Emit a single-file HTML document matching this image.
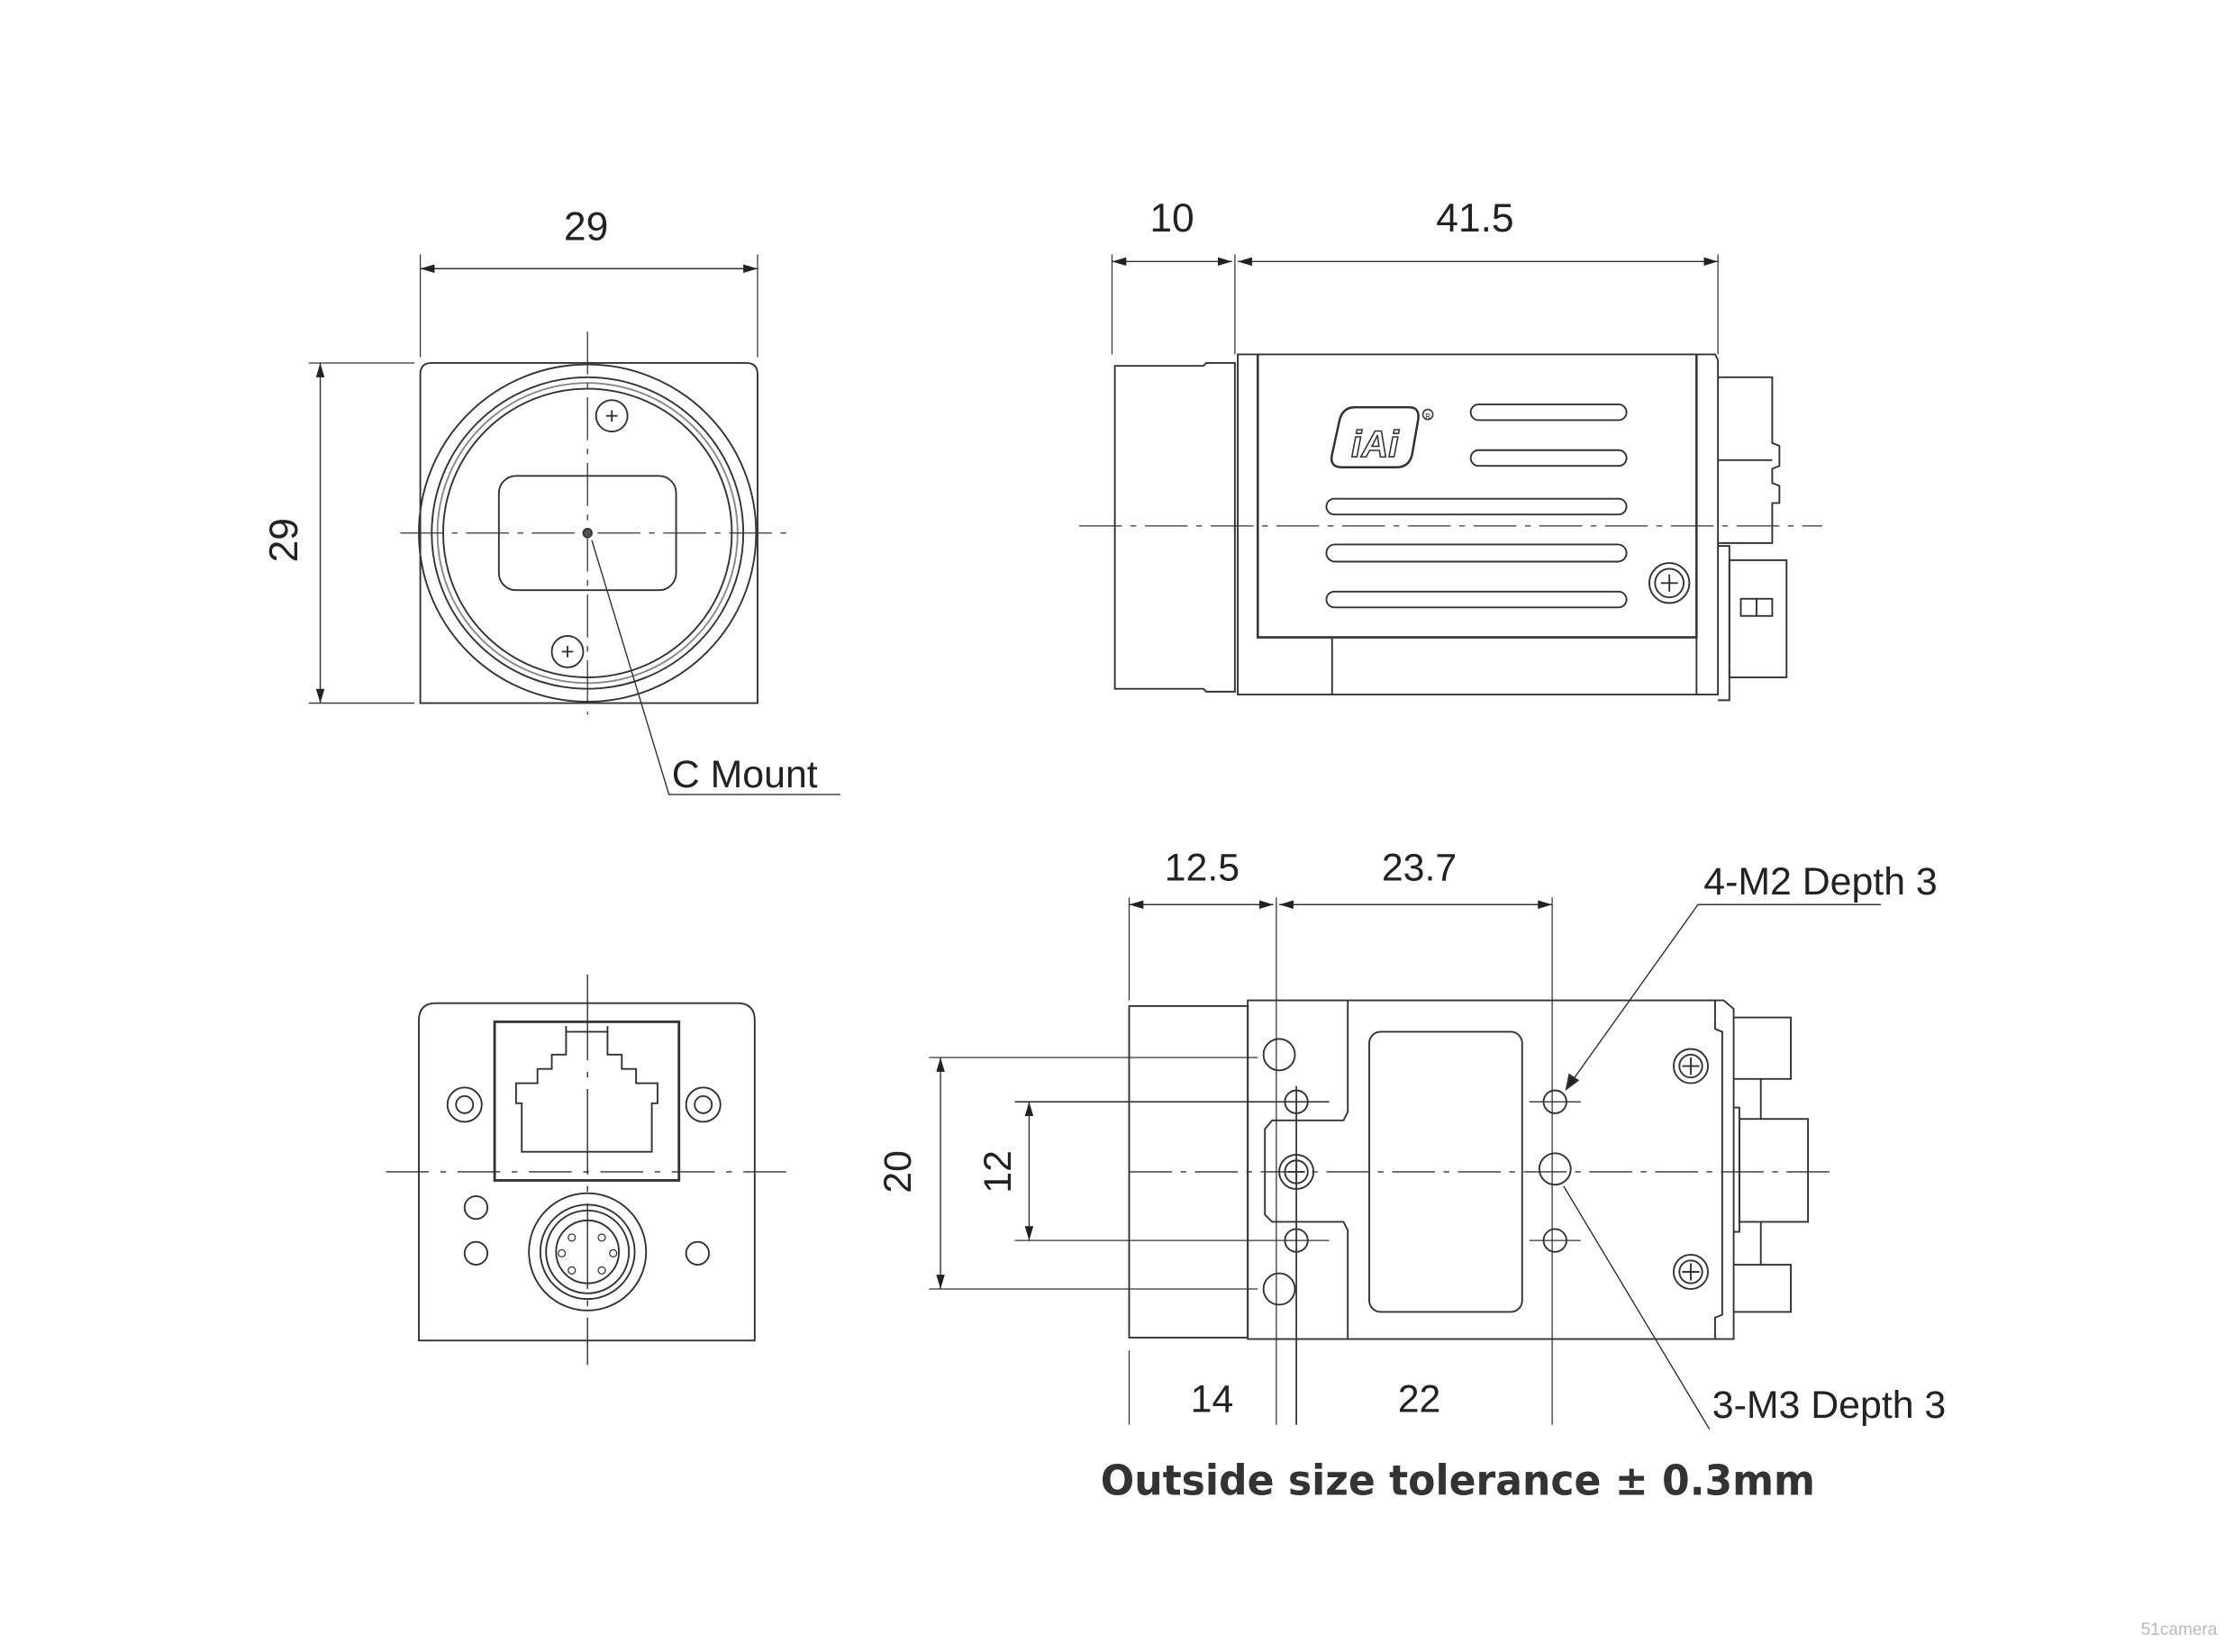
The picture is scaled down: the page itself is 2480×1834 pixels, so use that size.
<!DOCTYPE html>
<html><head><meta charset="utf-8"><style>
html,body{margin:0;padding:0;background:#fff;width:2480px;height:1834px;overflow:hidden}
svg{display:block}
text{font-family:"Liberation Sans",sans-serif;fill:#222}
</style></head><body>
<svg width="2480" height="1834" viewBox="0 0 1563 1156" xmlns="http://www.w3.org/2000/svg">
<defs>
<marker id="a" viewBox="0 0 10 6" refX="10" refY="3" markerWidth="10" markerHeight="6" orient="auto-start-reverse" markerUnits="userSpaceOnUse"><path d="M0,0L10,3L0,6z" fill="#222"/></marker>
</defs>
<g fill="none" stroke="#333" stroke-width="1.2">
<!-- FRONT VIEW -->
<path d="M294,262 Q294,254 302,254 L522,254 Q530,254 530,262 L530,492 L294,492 Z"/>
<line x1="294" y1="178" x2="294" y2="250" stroke-width="0.8"/>
<line x1="530" y1="178" x2="530" y2="250" stroke-width="0.8"/>
<line x1="294" y1="188" x2="530" y2="188" marker-start="url(#a)" marker-end="url(#a)" stroke-width="0.9"/>
<line x1="216" y1="254" x2="290" y2="254" stroke-width="0.8"/>
<line x1="216" y1="492" x2="290" y2="492" stroke-width="0.8"/>
<line x1="224" y1="254" x2="224" y2="492" marker-start="url(#a)" marker-end="url(#a)" stroke-width="0.9"/>
<circle cx="411" cy="373" r="118"/>
<circle cx="411" cy="373" r="109"/>
<circle cx="411" cy="373" r="105" stroke="#888"/>
<circle cx="411" cy="373" r="101"/>
<rect x="349" y="333" width="124" height="80" rx="12"/>
<circle cx="428" cy="291" r="11"/><path d="M424,291h8M428,287v8"/>
<circle cx="397" cy="456" r="11"/><path d="M393,456h8M397,452v8"/>
<line x1="411" y1="232" x2="411" y2="500" stroke-dasharray="30,6,4,6" stroke-width="0.8"/>
<line x1="280" y1="373" x2="555" y2="373" stroke-dasharray="30,6,4,6" stroke-width="0.8"/>
<circle cx="411" cy="373" r="3" fill="#555"/>
<polyline points="414,378 468,556 588,556" stroke-width="0.9"/>
<!-- SIDE VIEW -->
<line x1="778" y1="178" x2="778" y2="248" stroke-width="0.8"/>
<line x1="864" y1="178" x2="864" y2="248" stroke-width="0.8"/>
<line x1="1202" y1="178" x2="1202" y2="248" stroke-width="0.8"/>
<line x1="778" y1="183" x2="862" y2="183" marker-start="url(#a)" marker-end="url(#a)" stroke-width="0.9"/>
<line x1="866" y1="183" x2="1202" y2="183" marker-start="url(#a)" marker-end="url(#a)" stroke-width="0.9"/>
<path d="M780,256 L842,256 L844,254 L864,254 L864,484 L844,484 L842,482 L780,482 Z"/>
<path d="M866,248 L1200,248 L1202,252 L1202,486 L866,486 Z"/>
<path d="M880,248 L880,446 L1187,446 L1187,248" stroke-width="1.6"/>
<line x1="1187" y1="446" x2="1187" y2="486"/>
<line x1="932" y1="446" x2="932" y2="486"/>
<path d="M1202,264 L1240,264 L1240,310 L1245,312 L1245,326 L1240,328 L1240,338 L1245,340 L1245,352 L1240,352 L1240,380 L1202,380"/>
<line x1="1202" y1="322" x2="1240" y2="322"/>
<path d="M1202,382 L1210,382 L1210,490 L1202,490"/>
<rect x="1210" y="392" width="40" height="82"/>
<rect x="1218" y="419" width="22" height="12"/><line x1="1229" y1="419" x2="1229" y2="431"/>
<rect x="1029" y="283" width="109" height="11" rx="5.5"/>
<rect x="1029" y="315" width="109" height="11" rx="5.5"/>
<rect x="928" y="349" width="210" height="11" rx="5.5"/>
<rect x="928" y="381" width="210" height="12" rx="6"/>
<rect x="928" y="414" width="210" height="11" rx="5.5"/>
<path d="M937,295 Q939,285 948,285 L986,285 Q994,285 992,295 L988,318 Q986,327 977,327 L939,327 Q930,327 932,318 Z" stroke-width="1.6"/>
<circle cx="999" cy="290" r="3.5" stroke-width="1"/>
<circle cx="1168" cy="408" r="14"/><circle cx="1168" cy="408" r="10"/><path d="M1162,408h12M1168,402v12"/>
<line x1="755" y1="368" x2="1275" y2="368" stroke-dasharray="30,6,4,6" stroke-width="0.8"/>
<!-- REAR VIEW -->
<path d="M293,938 L293,714 Q293,702 305,702 L516,702 Q528,702 528,714 L528,938 Z"/>
<rect x="346" y="715" width="129" height="111" stroke-width="1.8"/>
<path d="M396,718 L396,738 L386,738 L386,748 L376,748 L376,758 L361,758 L361,772 L365,772 L365,806 L456,806 L456,772 L460,772 L460,758 L445,758 L445,748 L435,748 L435,738 L425,738 L425,718"/>
<line x1="396" y1="722" x2="425" y2="722"/>
<circle cx="325" cy="773" r="12"/><circle cx="325" cy="773" r="6"/>
<circle cx="492" cy="773" r="12"/><circle cx="492" cy="773" r="6"/>
<circle cx="333" cy="845" r="8"/><circle cx="333" cy="877" r="8"/><circle cx="488" cy="877" r="8"/>
<circle cx="411" cy="876" r="41"/><circle cx="411" cy="876" r="33"/><circle cx="411" cy="876" r="29"/><circle cx="411" cy="876" r="22"/>
<g stroke-width="0.8"><circle cx="400" cy="866" r="2.5"/><circle cx="421" cy="866" r="2.5"/><circle cx="393" cy="877" r="2.5"/><circle cx="429" cy="877" r="2.5"/><circle cx="400" cy="889" r="2.5"/><circle cx="421" cy="889" r="2.5"/></g>
<line x1="411" y1="682" x2="411" y2="955" stroke-dasharray="60,8,4,8" stroke-width="0.9"/>
<line x1="270" y1="820" x2="553" y2="820" stroke-dasharray="30,8,4,8" stroke-width="0.9"/>
<!-- BOTTOM VIEW -->
<rect x="790" y="704" width="83" height="232"/>
<path d="M873,700 L1206,700 L1213,706 L1213,937 L873,937 Z"/>
<path d="M943,700 L943,778 L940,784 L890,784 L885,790 L885,850 L890,855 L940,855 L943,861 L943,937"/>
<path d="M1200,700 L1200,720 L1205,722 L1205,920 L1200,922 L1200,937"/>
<rect x="958" y="722" width="107" height="196" rx="8"/>
<circle cx="895" cy="738" r="11"/><circle cx="895" cy="902" r="11"/><circle cx="1088" cy="818" r="11"/>
<circle cx="907" cy="771" r="8"/><circle cx="907" cy="868" r="8"/><circle cx="1088" cy="771" r="8"/><circle cx="1088" cy="868" r="8"/>
<circle cx="907" cy="820" r="12"/><circle cx="907" cy="820" r="8"/><path d="M901,820h12M907,814v12"/>
<circle cx="1183" cy="746" r="12"/><circle cx="1183" cy="746" r="8"/><path d="M1177,746h12M1183,740v12"/>
<circle cx="1183" cy="890" r="12"/><circle cx="1183" cy="890" r="8"/><path d="M1177,890h12M1183,884v12"/>
<path d="M1213,712 L1253,712 L1253,755 L1213,755"/>
<path d="M1213,885 L1253,885 L1253,918 L1213,918"/>
<path d="M1213,775 L1217,775 L1217,862 L1213,862"/>
<rect x="1217" y="783" width="48" height="72"/>
<line x1="1232" y1="755" x2="1232" y2="783"/><line x1="1232" y1="855" x2="1232" y2="885"/>
<line x1="790" y1="628" x2="790" y2="700" stroke-width="0.8"/>
<line x1="790" y1="945" x2="790" y2="997" stroke-width="0.8"/>
<line x1="893" y1="628" x2="893" y2="997" stroke-width="0.8"/>
<line x1="1086" y1="628" x2="1086" y2="997" stroke-width="0.8"/>
<line x1="907" y1="760" x2="907" y2="997" stroke-width="1.1"/>
<line x1="790" y1="633" x2="891" y2="633" marker-start="url(#a)" marker-end="url(#a)" stroke-width="0.9"/>
<line x1="895" y1="633" x2="1086" y2="633" marker-start="url(#a)" marker-end="url(#a)" stroke-width="0.9"/>
<line x1="650" y1="740" x2="880" y2="740" stroke-width="0.8"/>
<line x1="650" y1="902" x2="880" y2="902" stroke-width="0.8"/>
<line x1="710" y1="771" x2="930" y2="771" stroke-width="1"/>
<line x1="710" y1="868" x2="930" y2="868" stroke-width="0.8"/>
<line x1="1070" y1="771" x2="1106" y2="771" stroke-width="0.8"/>
<line x1="1070" y1="868" x2="1106" y2="868" stroke-width="0.8"/>
<line x1="658" y1="740" x2="658" y2="902" marker-start="url(#a)" marker-end="url(#a)" stroke-width="0.9"/>
<line x1="720" y1="771" x2="720" y2="868" marker-start="url(#a)" marker-end="url(#a)" stroke-width="0.9"/>
<line x1="790" y1="820" x2="1280" y2="820" stroke-dasharray="30,6,4,6" stroke-width="0.8"/>
<polyline points="1316,633 1188,633 1096,762" stroke-width="0.9"/>
<polygon points="1096,762 1098,752 1104,756" fill="#222"/>
<polyline points="1094,830 1196,1000" stroke-width="0.9"/>
</g>
<text x="962" y="320" font-size="26" font-style="italic" font-weight="bold" text-anchor="middle" style="fill:none;stroke:#333;stroke-width:1">iAi</text>
<text x="999" y="293" font-size="5" text-anchor="middle">R</text>
<text x="410" y="168" font-size="28" text-anchor="middle">29</text>
<text x="0" y="0" font-size="28" text-anchor="middle" transform="translate(208,378) rotate(-90)">29</text>
<text x="470" y="551" font-size="27">C Mount</text>
<text x="820" y="162" font-size="28" text-anchor="middle">10</text>
<text x="1032" y="162" font-size="28" text-anchor="middle">41.5</text>
<text x="841" y="616" font-size="27" text-anchor="middle">12.5</text>
<text x="993" y="616" font-size="27" text-anchor="middle">23.7</text>
<text x="1192" y="626" font-size="27">4-M2 Depth 3</text>
<text x="848" y="988" font-size="27" text-anchor="middle">14</text>
<text x="993" y="988" font-size="27" text-anchor="middle">22</text>
<text x="1198" y="992" font-size="27">3-M3 Depth 3</text>
<text x="0" y="0" font-size="27" text-anchor="middle" transform="translate(637,820) rotate(-90)">20</text>
<text x="0" y="0" font-size="27" text-anchor="middle" transform="translate(707,820) rotate(-90)">12</text>
<text x="770" y="1046" font-size="29" font-weight="bold" textLength="500" lengthAdjust="spacingAndGlyphs" style="font-family:'DejaVu Sans',sans-serif;fill:#333">Outside size tolerance ± 0.3mm</text>
<text x="1498" y="1144" font-size="12" style="fill:#bbb">51camera</text>
</svg>
</body></html>
